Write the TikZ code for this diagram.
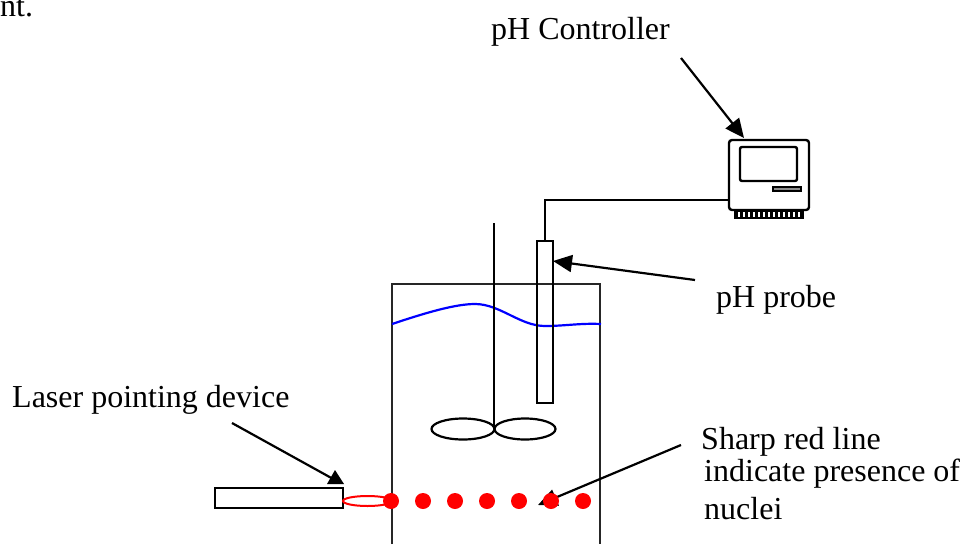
\documentclass[tikz,border=0pt]{standalone}
\usepackage{fontspec}
\setmainfont{Liberation Serif}
\usetikzlibrary{arrows.meta,shapes.geometric}
\tikzset{
  label text/.style={anchor=base west,inner sep=0pt,font=\fontsize{32}{36}\selectfont},
  box/.style={draw=black,line width=2.4pt,fill=white,inner sep=0pt,outer sep=0pt},
  paddle/.style={draw=black,line width=2.2pt,ellipse,inner sep=0pt,outer sep=0pt,minimum width=63pt,minimum height=21pt},
  reddot/.style={circle,fill=red,inner sep=0pt,outer sep=0pt,minimum size=16pt},
  pointer/.style={line width=2.2pt,-{Triangle[length=19pt,width=17pt]}},
}
\begin{document}
\begin{tikzpicture}[x=1pt,y=-1pt]
\useasboundingbox (0,0) rectangle (963,544);
% vessel
\draw[line width=2.4pt,draw=black!85] (392,544) -- (392,284) -- (600,284) -- (600,544);
% liquid level
\draw[blue,line width=2.2pt] (392,324) .. controls (425,313) and (455,304) .. (475,304) .. controls (500,304) and (520,326) .. (545,326) .. controls (565,326) and (580,323) .. (601,324);
% stirrer
\node[paddle] (paddleleft) at (463,429) {};
\node[paddle,minimum width=61pt] (paddleright) at (525,429) {};
\coordinate (shafttop) at (494,223);
\coordinate (shaftend) at (494,429);
\draw[line width=2pt] (shafttop) -- (shaftend);
% probe
\node[box,fill=none,minimum width=16pt,minimum height=162pt] (probe) at (545,322) {};
% controller
\node[box,rounded corners=3pt,minimum width=80pt,minimum height=70pt] (computer) at (769,175) {};
\node[box,rounded corners=2pt,minimum width=57pt,minimum height=34pt] (screen) at (768.5,164) {};
\node[box,fill=black!45,line width=1.6pt,minimum width=28pt,minimum height=3.5pt] (slot) at (787,189) {};
\node[box,line width=1.5pt,fill=none,minimum width=68pt,minimum height=7pt] (feet) at (769,214.5) {};
\draw[line width=5pt,dash pattern=on 3pt off 2pt] (feet.west) -- (feet.east);
\coordinate (cablein) at (729,200);
\draw[line width=2pt] (cablein) -| (probe.north);
% laser
\node[box,minimum width=128pt,minimum height=20pt] (laser) at (279,498) {};
\node[draw=red,line width=2pt,ellipse,inner sep=0pt,outer sep=0pt,minimum width=49pt,minimum height=10pt] (beam) at (367.5,501) {};
% arrows
\coordinate (ctrlfrom) at (681,58);
\coordinate (ctrlto) at (744,138);
\draw[pointer] (ctrlfrom) -- (ctrlto);
\coordinate (probefrom) at (695,280);
\coordinate (probeto) at (553,261);
\draw[pointer] (probefrom) -- (probeto);
\coordinate (laserfrom) at (232,423);
\coordinate (laserto) at (335,480);
\draw[line width=2.2pt] (laserfrom) -- (laserto);
\fill (335,470) -- (344,484) -- (327,484) -- cycle;
\coordinate (sharpfrom) at (681,445);
\coordinate (sharpto) at (538,505);
\draw[pointer] (sharpfrom) -- (sharpto);
% nuclei
\node[reddot] (dota) at (391,501) {};
\node[reddot] (dotb) at (423,501) {};
\node[reddot] (dotc) at (455,501) {};
\node[reddot] (dotd) at (487,501) {};
\node[reddot] (dote) at (519,501) {};
\node[reddot] (dotf) at (551,501) {};
\node[reddot] (dotg) at (583,501) {};
% labels
\node[label text] (nt) at (0,16) {nt.};
\node[label text] (ctrllabel) at (491,39) {pH Controller};
\node[label text] (probelabel) at (716,307) {pH probe};
\node[label text] (laserlabel) at (12,407) {Laser pointing device};
\node[label text] (sharplabel) at (701,449) {Sharp red line};
\node[label text] (indicatelabel) at (704,481) {indicate presence of};
\node[label text] (nucleilabel) at (704,519) {nuclei};
\end{tikzpicture}
\end{document}
